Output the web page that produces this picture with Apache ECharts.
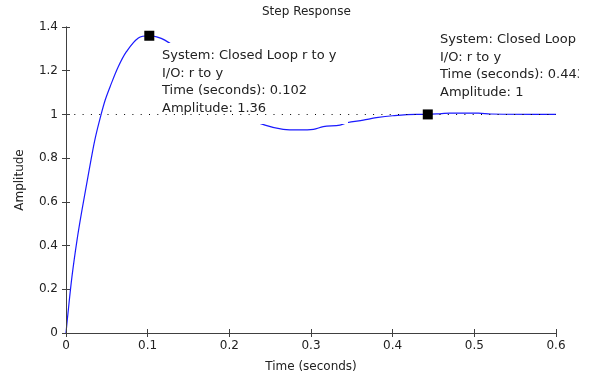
<!DOCTYPE html>
<html>
<head>
<meta charset="utf-8">
<script src="https://cdn.jsdelivr.net/npm/echarts@6/dist/echarts.min.js"></script>
<style>
  html, body { margin: 0; padding: 0; background: #fff; }
  #chart { width: 592px; height: 379px; }
</style>
</head>
<body>
<div id="chart"></div>
<script>
// step response
const time = [0, 0.0024, 0.0073, 0.0135, 0.0196, 0.0257, 0.031, 0.036, 0.043, 0.048, 0.054, 0.064, 0.074, 0.0886, 0.102,
  0.111, 0.121, 0.14, 0.16, 0.18, 0.2, 0.22, 0.2437, 0.266, 0.285, 0.303, 0.315, 0.3355, 0.344, 0.364, 0.38, 0.4, 0.429,
  0.443, 0.46, 0.47, 0.505, 0.52, 0.6]
const amplitude = [0, 0.09, 0.258, 0.425, 0.563, 0.69, 0.8, 0.895, 1.0, 1.066, 1.127, 1.218, 1.287, 1.35, 1.36,
  1.355, 1.34, 1.29, 1.21, 1.12, 1.05, 0.99, 0.951, 0.932, 0.929, 0.932, 0.944, 0.951, 0.962, 0.974, 0.985, 0.994, 1.0,
  1.0, 1.004, 1.006, 1.006, 1.002, 1.0]

// data tips
const tipTime = [0.102, 0.443]
const tipAmp = [1.36, 1]
const tipLabels = [
  ['System: Closed Loop r to y', 'I/O: r to y', 'Time (seconds): 0.102', 'Amplitude: 1.36'],
  ['System: Closed Loop', 'I/O: r to y', 'Time (seconds): 0.443', 'Amplitude: 1'],
]
const finalValue = 1

const FONT = 'DejaVu Sans'
const AXIS = '#404040'

const chart = echarts.init(document.getElementById('chart'))

const axisCommon = {
  type: 'value',
  axisLine: { show: true, lineStyle: { color: AXIS, width: 1 } },
  axisTick: { show: true, inside: true, length: 4, lineStyle: { color: AXIS } },
  splitLine: { show: false },
}

chart.setOption({
  animation: false,
  title: {
    text: 'Step Response',
    left: 262, top: 6, padding: 0,
    textStyle: { fontFamily: FONT, fontSize: 12, fontWeight: 'normal', color: '#222' },
  },
  grid: { left: 66, right: 36, top: 27, bottom: 46 },
  xAxis: [
    {
      ...axisCommon, position: 'bottom', min: 0, max: 0.6, interval: 0.1,
      name: 'Time (seconds)', nameLocation: 'middle', nameGap: 28,
      nameTextStyle: { fontFamily: FONT, fontSize: 12, color: '#222' },
      axisLabel: { fontFamily: FONT, fontSize: 12, color: '#222', margin: 7 },
    },
    { ...axisCommon, position: 'top', min: 0, max: 0.6, interval: 0.1, axisLabel: { show: false }, z: 10 },
  ],
  yAxis: [
    {
      ...axisCommon, position: 'left', min: 0, max: 1.4, interval: 0.2,
      name: 'Amplitude', nameLocation: 'middle', nameGap: 40,
      nameTextStyle: { fontFamily: FONT, fontSize: 12, color: '#222' },
      axisLabel: { fontFamily: FONT, fontSize: 12, color: '#222', margin: 8 },
    },
    { ...axisCommon, position: 'right', min: 0, max: 1.4, interval: 0.2, axisLabel: { show: false }, z: 10 },
  ],
  series: [
    {
      type: 'line',
      data: time.map((t, i) => [t, amplitude[i]]),
      showSymbol: false,
      smooth: 0.35,
      lineStyle: { color: '#1a1aff', width: 1.2 },
      markLine: {
        silent: true,
        symbol: 'none',
        label: { show: false },
        lineStyle: { color: '#000', width: 1, type: [1, 7.3] },
        data: [{ yAxis: finalValue }],
      },
      z: 2,
    },
    {
      type: 'scatter',
      data: tipTime.map((t, i) => [t, tipAmp[i]]),
      symbol: 'rect',
      symbolSize: 10,
      itemStyle: { color: '#000', opacity: 1 },
      z: 8,
    },
  ],
  graphic: [
    // white backgrounds of the data tips
    { type: 'rect', shape: { x: 157, y: 43, width: 191, height: 81 }, style: { fill: '#fff' }, z: 5 },
    { type: 'rect', shape: { x: 436, y: 29, width: 156, height: 72 }, style: { fill: '#fff' }, z: 5 },
    {
      type: 'text', x: 162, y: 47, z: 6,
      style: { text: tipLabels[0].join('\n'), font: '13px "DejaVu Sans"', lineHeight: 17.5, fill: '#222' },
    },
    {
      type: 'text', x: 440, y: 31, z: 6,
      style: { text: tipLabels[1].join('\n'), font: '13px "DejaVu Sans"', lineHeight: 17.5, fill: '#222' },
    },
    // right edge of the figure clips the second tip
    { type: 'rect', shape: { x: 579, y: 28, width: 13, height: 75 }, style: { fill: '#fff' }, z: 7 },
  ],
})
</script>
</body>
</html>
